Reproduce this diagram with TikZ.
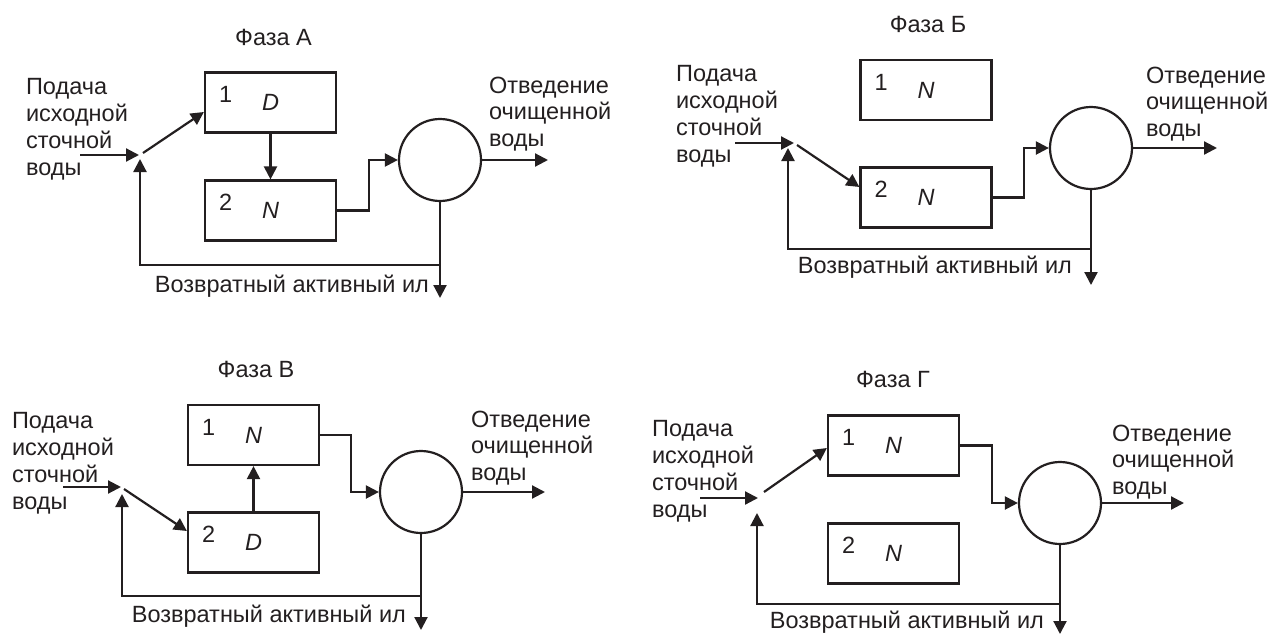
\documentclass[tikz,border=0pt]{standalone}
\usepackage{fontspec}
\setmainfont{Liberation Sans}
\usetikzlibrary{arrows.meta}
\definecolor{ink}{RGB}{35,31,32}

\begin{document}
\begin{tikzpicture}[ink, x=1pt, y=-1pt, line width=2.2pt,
    every node/.style={font=\fontsize{23.5}{26.7}\selectfont, inner sep=0pt},
    becken/.style={draw, minimum width=131pt, minimum height=60pt, font=\fontsize{23.5}{26.7}\selectfont\itshape},
    nr/.style={anchor=base west, xshift=14pt, font=\fontsize{23.5}{26.7}\selectfont\upshape},
    klaerer/.style={circle, draw, minimum size=82pt},
    txt/.style={align=left, anchor=base west},
    strom/.style={-{Triangle[length=13pt, width=13pt]}}]

    \useasboundingbox (0,0) rectangle (1269,637);

    % Phase A
    \node[anchor=base] (ta) at (273.5,45) {Фаза А};
    \node[becken, label={[nr]west:1}] (a1) at (270.5,102.5) {D};
    \node[becken, label={[nr]west:2}] (a2) at (270.5,210.5) {N};
    \node[klaerer] (ac) at (440,160) {};
    \node[txt] (ain) at (25,175) {Подача\\исходной\\сточной\\воды};
    \node[txt] (aout) at (488,146.5) {Отведение\\очищенной\\воды};
    \node[anchor=base east] (aril) at (430,292) {Возвратный активный ил};
    \coordinate (a0) at (80,155);
    \coordinate (aj) at (139,155);
    \coordinate (ajr) at (140,159);
    \coordinate (ar) at (440,265);
    \coordinate (ae) at (548,160);
    \coordinate (ad) at (440,298);
    \draw[strom] (a0) -- (aj);
    \draw[strom] ([shift={(4,-2)}]aj) -- ([yshift=-9.5pt]a1.west);
    \draw[strom] (a1) -- (a2);
    \draw[strom] (a2.east) -- ++(32,0) |- (ac.west);
    \draw[strom] (ac.east) -- (ae);
    \draw[strom] (ac.south) -- (ad);
    \draw[strom] (ar) -| (ajr);

    % Phase B
    \node[anchor=base] (tb) at (928,32) {Фаза Б};
    \node[becken, label={[nr]west:1}] (b1) at (926,90) {N};
    \node[becken, label={[nr]west:2}] (b2) at (926,197.5) {N};
    \node[klaerer] (bc) at (1091,148) {};
    \node[txt] (bin) at (675,162) {Подача\\исходной\\сточной\\воды};
    \node[txt] (bout) at (1145,136.5) {Отведение\\очищенной\\воды};
    \node[anchor=base east] (bril) at (1073,273) {Возвратный активный ил};
    \coordinate (b0) at (735,143);
    \coordinate (bj) at (794,143);
    \coordinate (bjr) at (788,148);
    \coordinate (br) at (1091,249);
    \coordinate (be) at (1217,148);
    \coordinate (bd) at (1091,285);
    \draw[strom] (b0) -- (bj);
    \draw[strom] ([shift={(3,2)}]bj) -- ([yshift=10.5pt]b2.west);
    \draw[strom] (b2.east) -- ++(31,0) |- (bc.west);
    \draw[strom] (bc.east) -- (be);
    \draw[strom] (bc.south) -- (bd);
    \draw[strom] (br) -| (bjr);

    % Phase V
    \node[anchor=base] (tc) at (256,377) {Фаза В};
    \node[becken, label={[nr]west:1}] (c1) at (253.5,435) {N};
    \node[becken, label={[nr]west:2}] (c2) at (253.5,542.5) {D};
    \node[klaerer] (cc) at (421,492) {};
    \node[txt] (cin) at (11,509) {Подача\\исходной\\сточной\\воды};
    \node[txt] (cout) at (470,480.5) {Отведение\\очищенной\\воды};
    \node[anchor=base east] (cril) at (407,622) {Возвратный активный ил};
    \coordinate (c0) at (63,487);
    \coordinate (cj) at (121,487);
    \coordinate (cjr) at (122,494);
    \coordinate (cr) at (421,596);
    \coordinate (ce) at (545,492);
    \coordinate (cd) at (421,630);
    \draw[strom] (c0) -- (cj);
    \draw[strom] ([shift={(3,2)}]cj) -- ([yshift=11.5pt]c2.west);
    \draw[strom] (c2) -- (c1);
    \draw[strom] (c1.east) -- ++(31,0) |- (cc.west);
    \draw[strom] (cc.east) -- (ce);
    \draw[strom] (cc.south) -- (cd);
    \draw[strom] (cr) -| (cjr);

    % Phase G
    \node[anchor=base] (td) at (893,387) {Фаза Г};
    \node[becken, label={[nr]west:1}] (d1) at (893.5,445.5) {N};
    \node[becken, label={[nr]west:2}] (d2) at (893.5,553.5) {N};
    \node[klaerer] (dc) at (1060,503) {};
    \node[txt] (din) at (651,517) {Подача\\исходной\\сточной\\воды};
    \node[txt] (dout) at (1111,494.5) {Отведение\\очищенной\\воды};
    \node[anchor=base east] (dril) at (1045,628) {Возвратный активный ил};
    \coordinate (d0) at (700,498);
    \coordinate (dj) at (758,498);
    \coordinate (djr) at (757,513);
    \coordinate (dr) at (1060,604);
    \coordinate (de) at (1184,503);
    \coordinate (dd) at (1060,634);
    \draw[strom] (d0) -- (dj);
    \draw[strom] ([shift={(6,-6)}]dj) -- ([yshift=-2.5pt]d1.west);
    \draw[strom] (d1.east) -- ++(32,0) |- (dc.west);
    \draw[strom] (dc.east) -- (de);
    \draw[strom] (dc.south) -- (dd);
    \draw[strom] (dr) -| (djr);

\end{tikzpicture}
\end{document}
